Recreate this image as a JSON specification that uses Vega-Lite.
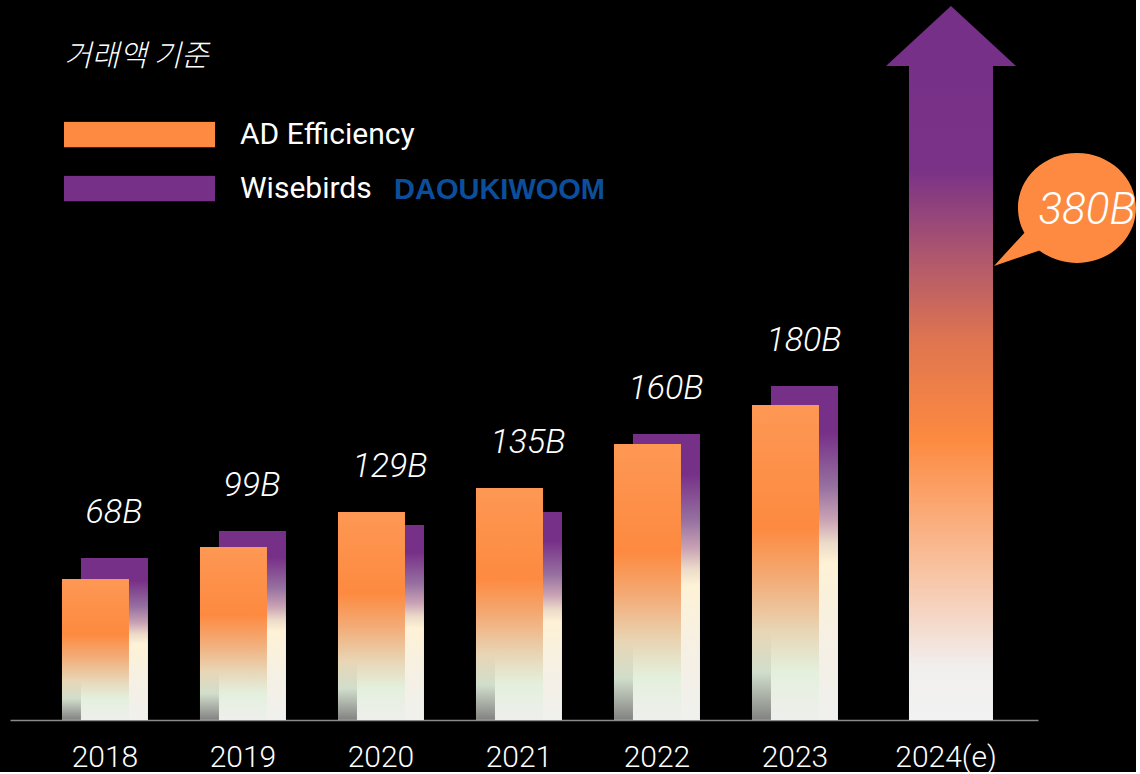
{
  "$schema": "https://vega.github.io/schema/vega-lite/v6.json",
  "background": "#000000",
  "width": 1028,
  "height": 720,
  "padding": {"left": 10, "top": 0, "right": 0, "bottom": 0},
  "autosize": {"type": "pad"},
  "config": {"view": {"stroke": null}, "font": "Roboto"},
  "datasets": {
    "bars": [
      {"year": "2018", "series": "AD Efficiency", "value": 81.9},
      {"year": "2018", "series": "Wisebirds", "value": 94.1},
      {"year": "2019", "series": "AD Efficiency", "value": 100.5},
      {"year": "2019", "series": "Wisebirds", "value": 109.8},
      {"year": "2020", "series": "AD Efficiency", "value": 120.9},
      {"year": "2020", "series": "Wisebirds", "value": 113.3},
      {"year": "2021", "series": "AD Efficiency", "value": 134.8},
      {"year": "2021", "series": "Wisebirds", "value": 120.9},
      {"year": "2022", "series": "AD Efficiency", "value": 160.4},
      {"year": "2022", "series": "Wisebirds", "value": 166.2},
      {"year": "2023", "series": "AD Efficiency", "value": 183.0},
      {"year": "2023", "series": "Wisebirds", "value": 194.1}
    ],
    "labels": [
      {"year": "2018", "label": "68B"},
      {"year": "2019", "label": "99B"},
      {"year": "2020", "label": "129B"},
      {"year": "2021", "label": "135B"},
      {"year": "2022", "label": "160B"},
      {"year": "2023", "label": "180B"}
    ],
    "forecast": [
      {"year": "2024(e)", "value": 380, "label": "380B"}
    ]
  },
  "encoding": {
    "x": {
      "field": "year",
      "type": "nominal",
      "scale": {
        "domain": ["2018", "2019", "2020", "2021", "2022", "2023", "2024(e)"],
        "paddingInner": 0,
        "paddingOuter": 0.2246,
        "align": 0.419
      },
      "axis": {
        "title": null,
        "ticks": false,
        "tickSize": 0,
        "grid": false,
        "domainColor": "#8a8a8a",
        "domainWidth": 1.5,
        "labelColor": "#ffffff",
        "labelFont": "Roboto",
        "labelFontSize": 30,
        "labelFontWeight": 300,
        "labelPadding": 22,
        "labelAngle": 0,
        "labelOffset": {"condition": {"test": "datum.value === '2024(e)'", "value": 13}, "value": 0}
      }
    }
  },
  "layer": [
    {
      "data": {"name": "bars"},
      "mark": {"type": "bar", "width": 67, "opacity": 0},
      "encoding": {
        "y": {"field": "value", "type": "quantitative", "scale": {"domain": [0, 418.3], "nice": false}, "axis": null},
        "color": {
          "field": "series",
          "type": "nominal",
          "scale": {"domain": ["AD Efficiency", "Wisebirds"], "range": ["#fd8a40", "#773088"]},
          "legend": {
            "orient": "none",
            "legendX": 54,
            "legendY": 42,
            "direction": "vertical",
            "padding": 0,
            "title": "거래액 기준",
            "titleFont": "Noto Sans CJK KR",
            "titleFontSize": 30,
            "titleFontWeight": 300,
            "titleFontStyle": "italic",
            "titleColor": "#ffffff",
            "titlePadding": 49.5,
            "symbolType": "M-1,-0.17H1V0.17H-1Z",
            "symbolSize": 22801,
            "symbolStrokeWidth": 0,
            "symbolOpacity": 1,
            "clipHeight": 26,
            "labelFont": "Roboto",
            "labelFontSize": 30,
            "labelColor": "#ffffff",
            "labelOffset": 25,
            "labelLimit": 0,
            "rowPadding": 24
          }
        }
      }
    },
    {
      "data": {"name": "bars"},
      "transform": [{"filter": "datum.series === 'Wisebirds'"}],
      "mark": {
        "type": "bar",
        "width": 67,
        "xOffset": 9.5,
        "color": {
          "gradient": "linear", "x1": 0, "y1": 0, "x2": 0, "y2": 1,
          "stops": [
            {"offset": 0, "color": "#773088"},
            {"offset": 0.14, "color": "#773088"},
            {"offset": 0.3, "color": "#9670a0"},
            {"offset": 0.4, "color": "#c9a2b4"},
            {"offset": 0.47, "color": "#ecdac8"},
            {"offset": 0.53, "color": "#fef2d6"},
            {"offset": 0.75, "color": "#f6f0e4"},
            {"offset": 1, "color": "#f0f0ee"}
          ]
        }
      },
      "encoding": {
        "y": {"field": "value", "type": "quantitative", "scale": {"domain": [0, 418.3], "nice": false}, "axis": null}
      }
    },
    {
      "data": {"name": "bars"},
      "transform": [{"filter": "datum.series === 'AD Efficiency'"}],
      "mark": {
        "type": "bar",
        "width": 67,
        "xOffset": -9.5,
        "color": {
          "gradient": "linear", "x1": 0, "y1": 0, "x2": 0, "y2": 1,
          "stops": [
            {"offset": 0, "color": "#fd9854"},
            {"offset": 0.39, "color": "#fd8a40"},
            {"offset": 0.55, "color": "#f3ab76"},
            {"offset": 0.72, "color": "#e8d6b6"},
            {"offset": 0.85, "color": "rgba(226,240,220,0.92)"},
            {"offset": 1, "color": "rgba(236,238,234,0.55)"}
          ]
        }
      },
      "encoding": {
        "y": {"field": "value", "type": "quantitative", "scale": {"domain": [0, 418.3], "nice": false}, "axis": null}
      }
    },
    {
      "data": {"name": "bars"},
      "transform": [
        {"aggregate": [{"op": "max", "field": "value", "as": "top"}], "groupby": ["year"]},
        {"lookup": "year", "from": {"data": {"name": "labels"}, "key": "year", "fields": ["label"]}}
      ],
      "mark": {"type": "text", "dx": 9, "dy": -45, "fontSize": 34, "fontStyle": "italic", "fontWeight": 300, "font": "Roboto", "color": "#ffffff", "align": "center", "baseline": "middle"},
      "encoding": {
        "y": {"field": "top", "type": "quantitative", "scale": {"domain": [0, 418.3], "nice": false}, "axis": null},
        "text": {"field": "label", "type": "nominal"}
      }
    },
    {
      "data": {"name": "forecast"},
      "mark": {
        "type": "bar",
        "width": 84,
        "xOffset": 18,
        "color": {
          "gradient": "linear", "x1": 0, "y1": 0, "x2": 0, "y2": 1,
          "stops": [
            {"offset": 0, "color": "#773088"},
            {"offset": 0.16, "color": "#7a3287"},
            {"offset": 0.28, "color": "#aa5470"},
            {"offset": 0.42, "color": "#df7550"},
            {"offset": 0.57, "color": "#fd8a40"},
            {"offset": 0.74, "color": "#f9ba92"},
            {"offset": 0.86, "color": "#f4dccf"},
            {"offset": 0.92, "color": "#f1efee"},
            {"offset": 1, "color": "#f2f2f2"}
          ]
        }
      },
      "encoding": {
        "y": {"field": "value", "type": "quantitative", "scale": {"domain": [0, 418.3], "nice": false}, "axis": null}
      }
    },
    {
      "data": {"name": "forecast"},
      "mark": {"type": "point", "shape": "M-1,0.4615L1,0.4615L0,-0.4615Z", "size": 16900, "filled": true, "color": "#773088", "opacity": 1, "strokeWidth": 0, "xOffset": 18, "yOffset": -30},
      "encoding": {
        "y": {"field": "value", "type": "quantitative", "scale": {"domain": [0, 418.3], "nice": false}, "axis": null}
      }
    },
    {
      "data": {"name": "forecast"},
      "mark": {"type": "point", "size": 40000, "filled": true, "color": "#fd8a40", "opacity": 1, "strokeWidth": 0, "xOffset": 144, "yOffset": 142},
      "encoding": {
        "y": {"field": "value", "type": "quantitative", "scale": {"domain": [0, 418.3], "nice": false}, "axis": null},
        "shape": {
          "datum": "DAOUKIWOOM",
          "type": "nominal",
          "scale": {"range": ["M-0.59,0A0.59,0.55,0,1,1,0.59,0A0.59,0.55,0,1,1,-0.59,0ZM-0.83,0.58L-0.5,0.22L-0.36,0.42Z"]},
          "legend": {
            "orient": "none",
            "legendX": 355,
            "legendY": 175,
            "padding": 0,
            "title": null,
            "symbolSize": 0,
            "symbolOpacity": 0,
            "symbolStrokeWidth": 0,
            "labelOffset": 0,
            "labelLimit": 0,
            "labelFont": "Liberation Sans",
            "labelFontWeight": "bold",
            "labelFontSize": 29,
            "labelColor": "#0b4f9c"
          }
        }
      }
    },
    {
      "data": {"name": "forecast"},
      "mark": {"type": "text", "dx": 154, "dy": 145, "fontSize": 44, "fontStyle": "italic", "fontWeight": 300, "font": "Roboto", "color": "#ffffff", "align": "center", "baseline": "middle"},
      "encoding": {
        "y": {"field": "value", "type": "quantitative", "scale": {"domain": [0, 418.3], "nice": false}, "axis": null},
        "text": {"field": "label", "type": "nominal"}
      }
    }
  ]
}
